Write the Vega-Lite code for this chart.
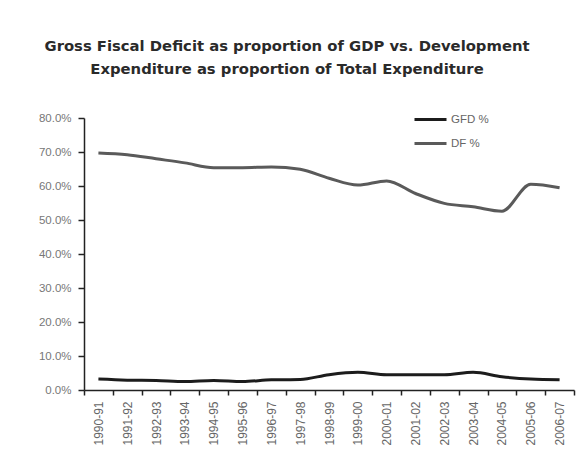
{
  "$schema": "https://vega.github.io/schema/vega-lite/v6.json",
  "width": 490,
  "height": 272,
  "autosize": {"type": "none"},
  "padding": {"left": 84, "top": 118, "right": 6, "bottom": 78},
  "background": "white",
  "title": {
    "text": ["Gross Fiscal Deficit as proportion of GDP vs. Development", "Expenditure as proportion of Total Expenditure"],
    "font": "DejaVu Sans",
    "fontSize": 14.8,
    "fontWeight": "bold",
    "color": "#2a2a2a",
    "anchor": "middle",
    "dx": -42,
    "offset": 25,
    "lineHeight": 23
  },
  "data": {
    "values": [
      {"year": "1990-91", "series": "GFD %", "value": 0.032},
      {"year": "1991-92", "series": "GFD %", "value": 0.029},
      {"year": "1992-93", "series": "GFD %", "value": 0.028},
      {"year": "1993-94", "series": "GFD %", "value": 0.025},
      {"year": "1994-95", "series": "GFD %", "value": 0.028},
      {"year": "1995-96", "series": "GFD %", "value": 0.025},
      {"year": "1996-97", "series": "GFD %", "value": 0.030},
      {"year": "1997-98", "series": "GFD %", "value": 0.031},
      {"year": "1998-99", "series": "GFD %", "value": 0.045},
      {"year": "1999-00", "series": "GFD %", "value": 0.052},
      {"year": "2000-01", "series": "GFD %", "value": 0.045},
      {"year": "2001-02", "series": "GFD %", "value": 0.045},
      {"year": "2002-03", "series": "GFD %", "value": 0.045},
      {"year": "2003-04", "series": "GFD %", "value": 0.052},
      {"year": "2004-05", "series": "GFD %", "value": 0.039},
      {"year": "2005-06", "series": "GFD %", "value": 0.032},
      {"year": "2006-07", "series": "GFD %", "value": 0.030},
      {"year": "1990-91", "series": "DF %", "value": 0.697},
      {"year": "1991-92", "series": "DF %", "value": 0.692},
      {"year": "1992-93", "series": "DF %", "value": 0.680},
      {"year": "1993-94", "series": "DF %", "value": 0.668},
      {"year": "1994-95", "series": "DF %", "value": 0.654},
      {"year": "1995-96", "series": "DF %", "value": 0.654},
      {"year": "1996-97", "series": "DF %", "value": 0.656},
      {"year": "1997-98", "series": "DF %", "value": 0.649},
      {"year": "1998-99", "series": "DF %", "value": 0.623},
      {"year": "1999-00", "series": "DF %", "value": 0.603},
      {"year": "2000-01", "series": "DF %", "value": 0.615},
      {"year": "2001-02", "series": "DF %", "value": 0.578},
      {"year": "2002-03", "series": "DF %", "value": 0.549},
      {"year": "2003-04", "series": "DF %", "value": 0.539},
      {"year": "2004-05", "series": "DF %", "value": 0.526},
      {"year": "2005-06", "series": "DF %", "value": 0.605},
      {"year": "2006-07", "series": "DF %", "value": 0.595}
    ]
  },
  "mark": {"type": "line", "strokeWidth": 3, "interpolate": "monotone"},
  "encoding": {
    "x": {
      "field": "year",
      "type": "ordinal",
      "scale": {"paddingInner": 0, "paddingOuter": 0},
      "axis": {
        "title": null,
        "labelAngle": -90,
        "tickBand": "extent",
        "domainColor": "#222",
        "domainWidth": 1.5,
        "tickColor": "#222",
        "tickWidth": 1.5,
        "tickSize": 5,
        "labelFont": "Liberation Sans",
        "labelFontSize": 12,
        "labelColor": "#666",
        "labelPadding": 6
      }
    },
    "y": {
      "field": "value",
      "type": "quantitative",
      "scale": {"domain": [0, 0.8], "nice": false},
      "axis": {
        "title": null,
        "format": ".1%",
        "values": [0, 0.1, 0.2, 0.3, 0.4, 0.5, 0.6, 0.7, 0.8],
        "grid": false,
        "domainColor": "#222",
        "domainWidth": 1.5,
        "tickColor": "#222",
        "tickWidth": 1.5,
        "tickSize": 6,
        "labelFont": "Liberation Sans",
        "labelFontSize": 11.5,
        "labelColor": "#777",
        "labelPadding": 7
      }
    },
    "color": {
      "field": "series",
      "type": "nominal",
      "scale": {"domain": ["GFD %", "DF %"], "range": ["#1c1c1c", "#5a5a5a"]},
      "legend": {
        "title": null,
        "orient": "none",
        "legendX": 329,
        "legendY": -16,
        "symbolType": "stroke",
        "symbolSize": 1024,
        "symbolStrokeWidth": 3,
        "labelFont": "Liberation Sans",
        "labelFontSize": 11.5,
        "labelColor": "#666",
        "rowPadding": -7,
        "labelOffset": 3
      }
    }
  },
  "config": {
    "view": {"stroke": null}
  }
}
